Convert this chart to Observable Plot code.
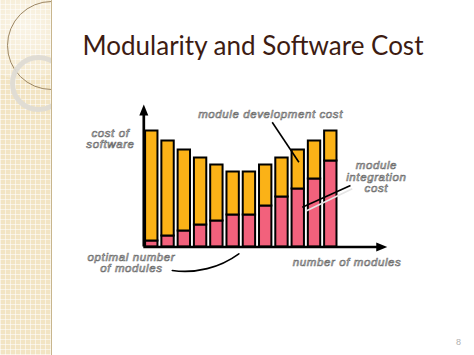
<!DOCTYPE html>
<html>
<head>
<meta charset="utf-8">
<script src="https://cdn.jsdelivr.net/npm/d3@7"></script>
<script src="https://cdn.jsdelivr.net/npm/@observablehq/plot@0.6"></script>
<style>
  html, body { margin: 0; padding: 0; background: #fff; }
  #page { position: relative; width: 474px; height: 355px; overflow: hidden; background: #fff; }
  #strip {
    position: absolute; left: 0; top: 0; width: 51px; height: 355px; overflow: hidden;
    background-color: #f2e4c3;
    background-image:
      repeating-linear-gradient(0deg, rgba(255,255,255,0.55) 0 1px, transparent 1px 5px),
      repeating-linear-gradient(90deg, rgba(255,255,255,0.55) 0 1px, transparent 1px 5px);
    border-right: 1px solid #c8b68e;
  }
  #strip .glow { position: absolute; left: -30px; top: -30px; width: 110px; height: 110px; border-radius: 50%;
    background: radial-gradient(circle, rgba(255,255,255,0.6), rgba(255,255,255,0)); }
  #strip .c1 { position: absolute; left: 7px; top: 1px; width: 89px; height: 89px; border-radius: 50%;
    border: 1px solid #9c8663; box-sizing: border-box; }
  #strip .c2 { position: absolute; left: 10px; top: 55px; width: 57px; height: 57px; border-radius: 50%;
    border: 5px solid rgba(222,219,212,0.95); box-sizing: border-box; }
  #title { position: absolute; left: 0; width: 474px; top: 29px; padding-left: 32px; box-sizing: border-box; text-align: center;
    font-family: Lato, "Open Sans", sans-serif; font-size: 26px; color: #3d1c12; white-space: nowrap; }
  #pagenum { position: absolute; left: 456px; top: 337px; font-family: "Liberation Sans", sans-serif; font-size: 9px; color: #b0b0b0; }
  #chart { position: absolute; left: 0; top: 0; }
</style>
</head>
<body>
<div id="page">
  <div id="strip"><div class="glow"></div><div class="c1"></div><div class="c2"></div></div>
  <div id="title">Modularity and Software Cost</div>
  <div id="chart"></div>
  <div id="pagenum">8</div>
</div>
<script>
// number of modules (bar index)
const modules = [1, 2, 3, 4, 5, 6, 7, 8, 9, 10, 11, 12];
// module integration cost (bottom, pink)
const integrationCost = [6, 11, 16, 22, 26, 32, 32, 41, 50, 58, 68, 86];
// module development cost (top, orange)
const developmentCost = [110, 95, 81, 67, 56, 43, 43, 41, 39, 39, 38, 30];

const seriesNames = ["module integration cost", "module development cost"];
const seriesColors = ["#f2617c", "#fbb217"];

// annotation texts
const labels = [
  {x: 8.3, y: 133, text: "module development cost"},
  {x: -1.54, y: 108, text: "cost of\nsoftware"},
  {x: 14.8, y: 70, text: "module\nintegration\ncost"},
  {x: -0.25, y: -15.7, text: "optimal number\nof modules"},
  {x: 13.0, y: -15.2, text: "number of modules"}
];
// pointer lines
const pointerLines = [
  {x1: 8.4, y1: 124.8, x2: 10.04, y2: 84.8, color: "#000"},
  {x1: 13.21, y1: 61.5, x2: 10.25, y2: 39.8, color: "#000"},
  {x1: 13.32, y1: 58.2, x2: 10.45, y2: 35.8, color: "#e4e4e4"}
];
const optimalCurve = [{x1: 2.26, y1: -23.5, x2: 6.35, y2: -6.8}];
// axes extents
const axisOriginX = 0.51;
const xAxisEnd = 15.1;
const yAxisEnd = 136.5;

const data = [];
modules.forEach((m, i) => {
  data.push({m, series: seriesNames[0], value: integrationCost[i]});
  data.push({m, series: seriesNames[1], value: developmentCost[i]});
});

const arrowHead = {
  draw(ctx, size) {
    const r = Math.sqrt(size / Math.PI);
    ctx.moveTo(0, -r * 1.2);
    ctx.lineTo(r * 0.9, r);
    ctx.lineTo(-r * 0.9, r);
    ctx.closePath();
  }
};

const textStyle = {
  fontFamily: "'Liberation Sans', Arial, sans-serif",
  fontSize: 11.5,
  fontStyle: "italic",
  fontWeight: "normal",
  fill: "#ffffff",
  stroke: "#707070",
  strokeWidth: 0.7,
  paintOrder: "normal",
  lineHeight: 1.0
};

const chart = Plot.plot({
  width: 474,
  height: 355,
  marginLeft: 135,
  marginRight: 78.6,
  marginTop: 96.5,
  marginBottom: 108.5,
  style: {background: "transparent", overflow: "visible", letterSpacing: "0.6px"},
  x: {domain: [0, 16], axis: null},
  y: {domain: [0, 150], axis: null},
  color: {domain: seriesNames, range: seriesColors},
  marks: [
    Plot.rectY(data, {
      x1: d => d.m - 0.38, x2: d => d.m + 0.38,
      y: "value", fill: "series", order: seriesNames,
      stroke: "#000", strokeWidth: 2
    }),
    Plot.link(pointerLines, {x1: "x1", y1: "y1", x2: "x2", y2: "y2", stroke: d => d.color, strokeWidth: 1.6}),
    Plot.arrow(optimalCurve, {x1: "x1", y1: "y1", x2: "x2", y2: "y2", bend: -22, headLength: 0, stroke: "#000", strokeWidth: 1.6}),
    Plot.ruleY([0], {x1: axisOriginX, x2: xAxisEnd, stroke: "#000", strokeWidth: 2.7}),
    Plot.ruleX([axisOriginX], {y1: 0, y2: yAxisEnd, stroke: "#000", strokeWidth: 2.7}),
    Plot.dot([{x: xAxisEnd, y: 0, rot: 90}, {x: axisOriginX, y: yAxisEnd, rot: 0}],
      {x: "x", y: "y", rotate: "rot", symbol: arrowHead, r: 5, fill: "#000", stroke: null}),
    Plot.text(labels, {x: "x", y: "y", text: "text", ...textStyle})
  ]
});
document.getElementById("chart").appendChild(chart);
</script>
</body>
</html>
